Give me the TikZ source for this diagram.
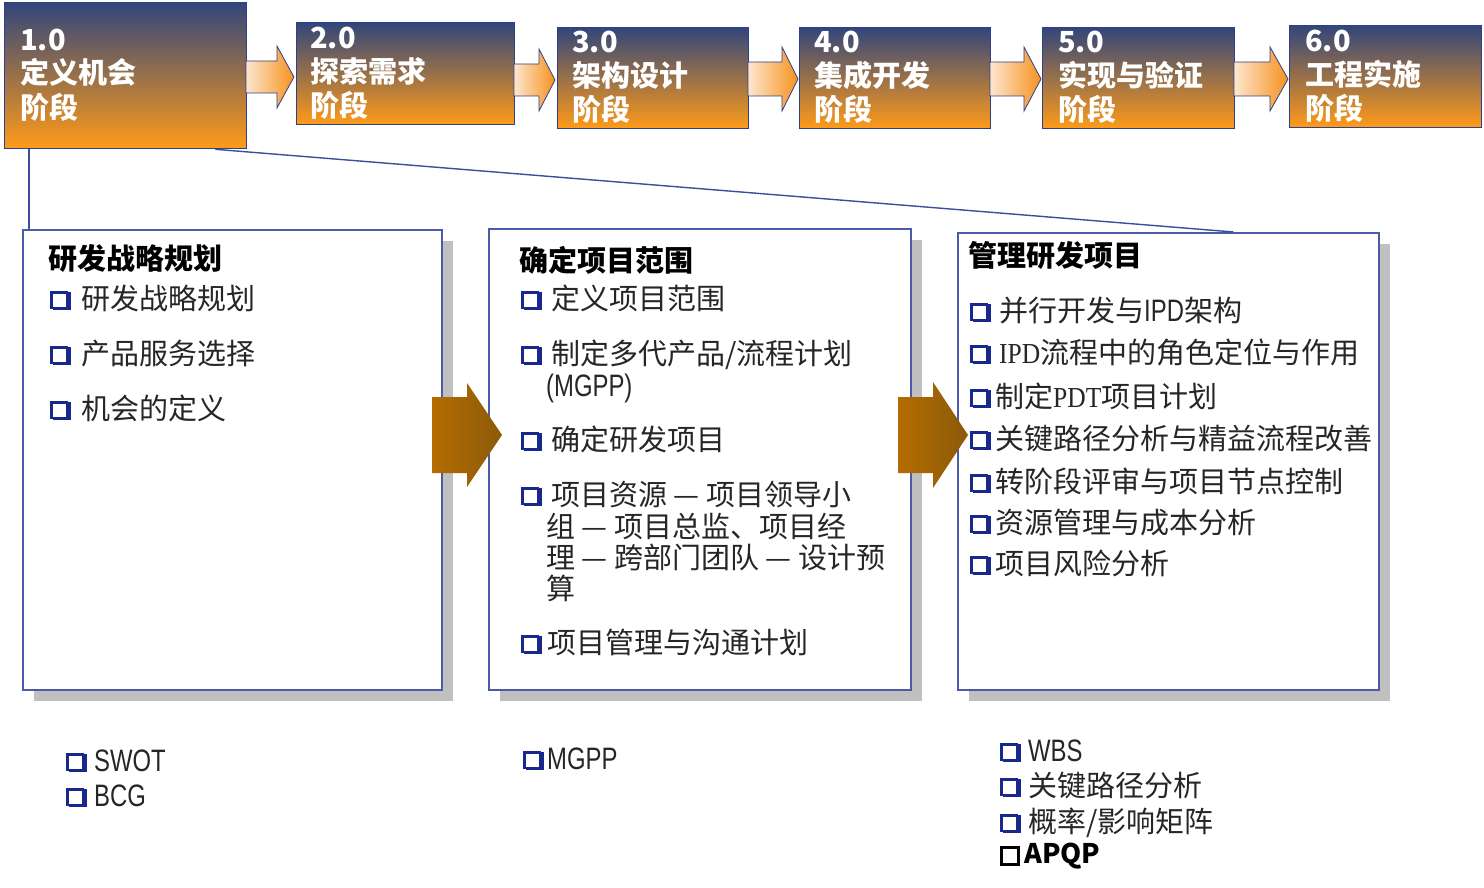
\documentclass[tikz,border=0pt]{standalone}
\usepackage{fontspec}
\setmainfont{Liberation Sans}
\newfontfamily\cjk{Noto Sans CJK SC}
\newfontfamily\arn[FakeStretch=0.77]{Liberation Sans}
\newfontfamily\ser[FakeStretch=0.88]{Liberation Serif}
\usetikzlibrary{calc}
\definecolor{hdrline}{RGB}{46,63,143}
\definecolor{hdrtop}{RGB}{50,70,122}
\definecolor{hdrmid}{RGB}{160,104,86}
\definecolor{hdrbot}{RGB}{255,155,25}
\definecolor{arrl}{RGB}{253,230,206}
\definecolor{arrr}{RGB}{246,146,30}
\definecolor{brl}{RGB}{180,108,0}
\definecolor{brr}{RGB}{140,90,10}
\definecolor{panelline}{RGB}{75,91,168}
\definecolor{shadowgray}{RGB}{192,192,192}
\definecolor{txt}{RGB}{38,38,38}
\definecolor{cbnavy}{RGB}{25,40,140}
\definecolor{linkcol}{RGB}{58,78,156}
\newcommand\cbx{{\color{cbnavy}\rlap{\hspace{3pt}\raisebox{-1pt}{\rule{18pt}{18pt}}}\raisebox{2pt}{\setlength\fboxrule{2.4pt}\setlength\fboxsep{0pt}\fcolorbox{cbnavy}{white}{\rule{0pt}{13.2pt}\rule{13.2pt}{0pt}}}}}
\newcommand\cb[1]{\makebox[#1pt][l]{\cbx}}
\newcommand\lat[1]{{\arn\fontsize{31}{34}\selectfont #1}}
\newcommand\srf[1]{{\ser\fontsize{29}{34}\selectfont #1}}
\newcommand\plainbox{{\setlength\fboxrule{3pt}\setlength\fboxsep{0pt}\fbox{\rule{0pt}{14pt}\rule{14pt}{0pt}}}}
\newcommand\harrow[7]{\path[#1] (#2,#5-#6) -- (#3,#5-#6) -- (#3,#5-#7) -- (#4,#5) -- (#3,#5+#7) -- (#3,#5+#6) -- (#2,#5+#6) -- cycle;}
\begin{document}
\begin{tikzpicture}[x=1pt,y=-1pt,
  hdr/.style={draw=hdrline,line width=1.3pt,top color=hdrtop,middle color=hdrmid,bottom color=hdrbot,anchor=north west,inner sep=0pt},
  hd/.style={font=\cjk\bfseries\fontsize{29}{34}\selectfont,text=white,inner sep=0pt,anchor=base west},
  smallarrow/.style={draw=hdrline,line width=0.8pt,left color=arrl,right color=arrr},
  bigarrow/.style={left color=brl,right color=brr},
  link/.style={draw=linkcol,line width=1.4pt},
  shadowbox/.style={fill=shadowgray,anchor=north west,inner sep=0pt},
  panel/.style={draw=panelline,line width=1.5pt,fill=white,anchor=north west,inner sep=0pt},
  ttl/.style={font=\cjk\bfseries\fontsize{29}{34}\selectfont,text=black,inner sep=0pt,anchor=base west},
  itm/.style={font=\cjk\fontsize{29}{34}\selectfont,text=txt,inner sep=0pt,anchor=base west}]
\useasboundingbox (0,0) rectangle (1484,888);
\fill[white] (0,0) rectangle (1484,888);

% header boxes
\node[hdr,minimum width=242pt,minimum height=146pt] (b1) at (4,2) {};
\node[hdr,minimum width=218pt,minimum height=102pt] (b2) at (296,22) {};
\node[hdr,minimum width=191pt,minimum height=101pt] (b3) at (557,27) {};
\node[hdr,minimum width=191pt,minimum height=101pt] (b4) at (799,27) {};
\node[hdr,minimum width=192pt,minimum height=101pt] (b5) at (1042,27) {};
\node[hdr,minimum width=192pt,minimum height=102pt] (b6) at (1289,25) {};

% header texts
\node[hd] (h1a) at (20,51) {1.0};
\node[hd] (h1b) at (20,84) {定义机会};
\node[hd] (h1c) at (20,119) {阶段};
\node[hd] (h2a) at (310,49) {2.0};
\node[hd] (h2b) at (310,83) {探索需求};
\node[hd] (h2c) at (310,117) {阶段};
\node[hd] (h3a) at (572,53) {3.0};
\node[hd] (h3b) at (572,87) {架构设计};
\node[hd] (h3c) at (572,121) {阶段};
\node[hd] (h4a) at (814,53) {4.0};
\node[hd] (h4b) at (814,87) {集成开发};
\node[hd] (h4c) at (814,121) {阶段};
\node[hd] (h5a) at (1058,53) {5.0};
\node[hd] (h5b) at (1058,87) {实现与验证};
\node[hd] (h5c) at (1058,121) {阶段};
\node[hd] (h6a) at (1305,52) {6.0};
\node[hd] (h6b) at (1305,86) {工程实施};
\node[hd] (h6c) at (1305,120) {阶段};

% small arrows between header boxes
\harrow{smallarrow}{246}{277}{294}{77}{16}{31}
\harrow{smallarrow}{514}{539}{555}{80}{16}{31}
\harrow{smallarrow}{748}{782}{798}{79}{17}{32}
\harrow{smallarrow}{990}{1024}{1041}{79}{17}{32}
\harrow{smallarrow}{1234}{1270}{1288}{79}{17}{32}

% shadows and panels
\node[shadowbox,minimum width=419pt,minimum height=460pt] (s1) at (34,241) {};
\node[shadowbox,minimum width=422pt,minimum height=461pt] (s2) at (500,240) {};
\node[shadowbox,minimum width=421pt,minimum height=457pt] (s3) at (969,244) {};
\node[panel,minimum width=419pt,minimum height=460pt] (p1) at (22,229) {};
\node[panel,minimum width=422pt,minimum height=461pt] (p2) at (488,228) {};
\node[panel,minimum width=421pt,minimum height=457pt] (p3) at (957,232) {};

% links from phase 1.0 to the detail panels
\coordinate (v1) at ($(b1.south west)+(25,0)$);
\draw[link] (v1) -- (v1 |- p1.north);
\coordinate (d1) at ($(b1.south east)+(-32,0)$);
\coordinate (d2) at ($(p3.north east)+(-146,0)$);
\draw[link] (d1) -- (d2);

% big brown arrows
\harrow{bigarrow}{432}{467}{502}{435}{38}{52}
\harrow{bigarrow}{898}{933}{968}{435}{38}{53}

% left panel
\node[ttl] (t1) at (48,269) {研发战略规划};
\node[itm] (i11) at (50,309) {\cb{31}研发战略规划};
\node[itm] (i12) at (50,364) {\cb{31}产品服务选择};
\node[itm] (i13) at (50,419) {\cb{31}机会的定义};

% middle panel
\node[ttl] (t2) at (519,271) {确定项目范围};
\node[itm] (i21) at (521,309) {\cb{30}定义项目范围};
\node[itm] (i22) at (521,364) {\cb{30}制定多代产品/流程计划};
\node[itm] (i22b) at (546,396) {\lat{(MGPP)}};
\node[itm] (i23) at (521,450) {\cb{30}确定研发项目};
\node[itm] (i24) at (521,505) {\cb{30}项目资源 — 项目领导小};
\node[itm] (i24b) at (546,537) {组 — 项目总监、项目经};
\node[itm] (i24c) at (546,568) {理 — 跨部门团队 — 设计预};
\node[itm] (i24d) at (546,599) {算};
\node[itm] (i25) at (521,653) {\cb{26}项目管理与沟通计划};

% right panel
\node[ttl] (t3) at (968,266) {管理研发项目};
\node[itm] (i31) at (970,321) {\cb{29}并行开发与\lat{IPD}架构};
\node[itm] (i32) at (970,363) {\cb{29}\srf{IPD}流程中的角色定位与作用};
\node[itm] (i33) at (970,407) {\cb{25}制定\srf{PDT}项目计划};
\node[itm] (i34) at (970,449) {\cb{25}关键路径分析与精益流程改善};
\node[itm] (i35) at (970,492) {\cb{25}转阶段评审与项目节点控制};
\node[itm] (i36) at (970,533) {\cb{25}资源管理与成本分析};
\node[itm] (i37) at (970,574) {\cb{25}项目风险分析};

% tools below
\node[itm] (u1) at (66,771) {\cb{28}\lat{SWOT}};
\node[itm] (u2) at (66,806) {\cb{28}\lat{BCG}};
\node[itm] (u3) at (523,769) {\cb{24}\lat{MGPP}};
\node[itm] (u4) at (1000,761) {\cb{28}\lat{WBS}};
\node[itm] (u5) at (1000,796) {\cb{28}关键路径分析};
\node[itm] (u6) at (1000,832) {\cb{28}概率/影响矩阵};
\node[itm,text=black] (u7) at (1000,863) {\makebox[24pt][l]{\plainbox}{\bfseries\fontsize{27}{30}\selectfont APQP}};
\end{tikzpicture}
\end{document}
